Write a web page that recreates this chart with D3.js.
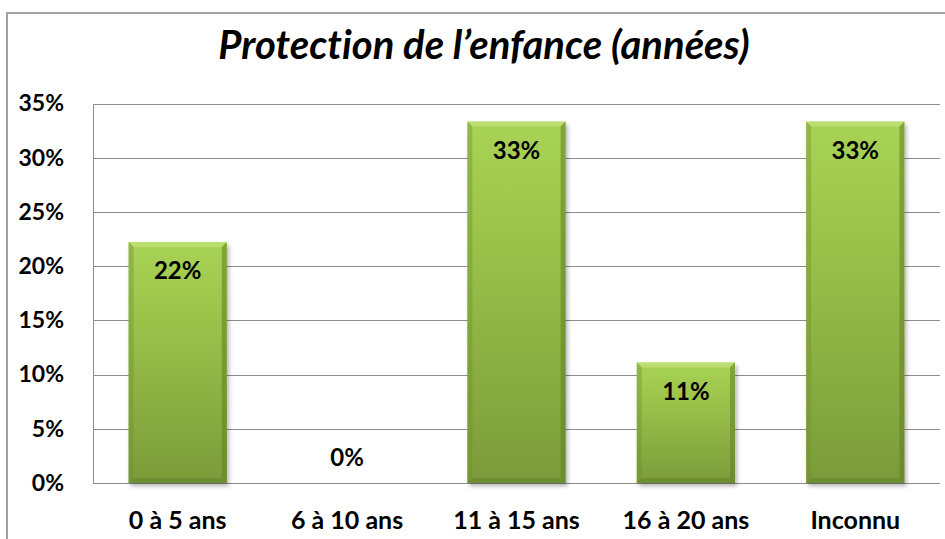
<!DOCTYPE html>
<html>
<head>
<meta charset="utf-8">
<script src="https://cdn.jsdelivr.net/npm/d3@7"></script>
<style>
  body { margin: 0; background: #fff; }
  text { font-family: Lato, "Open Sans", sans-serif; font-variant-ligatures: none; }
</style>
</head>
<body>
<script>
// Chart data
const categories = ["0 à 5 ans", "6 à 10 ans", "11 à 15 ans", "16 à 20 ans", "Inconnu"];
const values = [22.22, 0, 33.33, 11.11, 33.33];
const valueLabels = ["22%", "0%", "33%", "11%", "33%"];
const yTicks = [0, 5, 10, 15, 20, 25, 30, 35];
const title = "Protection de l’enfance (années)";

const width = 945, height = 539;
const margin = { left: 93, right: 5, top: 103.5, bottom: 56 };

const svg = d3.select("body").append("svg")
  .attr("width", width)
  .attr("height", height);

// Gradient for the bars
const defs = svg.append("defs");
const grad = defs.append("linearGradient")
  .attr("id", "barGrad")
  .attr("x1", 0).attr("y1", 0).attr("x2", 0).attr("y2", 1);
grad.append("stop").attr("offset", "0%").attr("stop-color", "#a9d355");
grad.append("stop").attr("offset", "30%").attr("stop-color", "#9cc44b");
grad.append("stop").attr("offset", "100%").attr("stop-color", "#7b9b3a");

const shadow = defs.append("filter").attr("id", "shadow")
  .attr("x", "-10%").attr("y", "-10%").attr("width", "130%").attr("height", "130%");
shadow.append("feDropShadow")
  .attr("dx", 2).attr("dy", 3).attr("stdDeviation", 2)
  .attr("flood-color", "#000").attr("flood-opacity", 0.3);

// Outer chart border
svg.append("path")
  .attr("d", `M7,${height} V13 H${width}`)
  .attr("fill", "none")
  .attr("stroke", "#a3a3a3")
  .attr("stroke-width", 2);

// Title
svg.append("text")
  .attr("x", 484)
  .attr("y", 59)
  .attr("text-anchor", "middle")
  .style("font-size", "40px")
  .style("font-style", "italic")
  .style("font-weight", "bold")
  .style("fill", "#000")
  .text(title);

// Scales
const x = d3.scaleBand()
  .domain(categories)
  .range([margin.left, width - margin.right])
  .paddingInner(0.42)
  .paddingOuter(0.21);

const y = d3.scaleLinear()
  .domain([0, 35])
  .range([height - margin.bottom, margin.top]);

// Gridlines
svg.append("g")
  .selectAll("line")
  .data(yTicks)
  .join("line")
  .attr("x1", margin.left)
  .attr("x2", width - margin.right)
  .attr("y1", d => Math.round(y(d)) + 0.5)
  .attr("y2", d => Math.round(y(d)) + 0.5)
  .attr("stroke", "#8c8c8c")
  .attr("stroke-width", 1);

// Plot area left edge
svg.append("line")
  .attr("x1", margin.left + 0.5).attr("x2", margin.left + 0.5)
  .attr("y1", Math.round(y(35)) + 0.5)
  .attr("y2", Math.round(y(0)) + 0.5)
  .attr("stroke", "#8c8c8c");

// Y axis labels
const yAxis = d3.axisLeft(y)
  .tickValues(yTicks)
  .tickFormat(d => d + "%")
  .tickSize(0)
  .tickPadding(29);

svg.append("g")
  .attr("transform", `translate(${margin.left},0)`)
  .call(yAxis)
  .call(g => g.select(".domain").remove())
  .call(g => g.selectAll("text")
    .style("font-size", "23px")
    .style("font-weight", "bold")
    .style("font-family", "Lato, sans-serif")
    .attr("fill", "#000"));

// X axis labels
const xAxis = d3.axisBottom(x).tickSize(0).tickPadding(28);
svg.append("g")
  .attr("transform", `translate(0,${y(0)})`)
  .call(xAxis)
  .call(g => g.select(".domain").remove())
  .call(g => g.selectAll("text")
    .style("font-size", "25px")
    .style("font-weight", "bold")
    .style("font-family", "Lato, sans-serif")
    .attr("fill", "#000"));

// Bars
const bars = svg.append("g")
  .selectAll("g")
  .data(values.map((v, i) => ({ cat: categories[i], v, label: valueLabels[i] })))
  .join("g");

const drawn = bars.filter(d => d.v > 0);

drawn.append("rect")
  .attr("x", d => x(d.cat))
  .attr("y", d => y(d.v))
  .attr("width", x.bandwidth())
  .attr("height", d => y(0) - y(d.v))
  .attr("fill", "url(#barGrad)")
  .attr("filter", "url(#shadow)");

// Bevel edges
const bev = 5;
drawn.append("path")
  .attr("d", d => {
    const x0 = x(d.cat), x1 = x0 + x.bandwidth(), y0 = y(d.v);
    return `M${x0},${y0} H${x1} L${x1 - bev},${y0 + bev} H${x0 + bev} Z`;
  })
  .attr("fill", "#c2e37a")
  .attr("opacity", 0.7);

drawn.append("path")
  .attr("d", d => {
    const x0 = x(d.cat), x1 = x0 + x.bandwidth(), y0 = y(d.v), y1 = y(0);
    return `M${x1},${y0} V${y1} L${x1 - bev},${y1 - bev} V${y0 + bev} Z`;
  })
  .attr("fill", "#5f7f26")
  .attr("opacity", 0.55);

drawn.append("path")
  .attr("d", d => {
    const x0 = x(d.cat), x1 = x0 + x.bandwidth(), y1 = y(0);
    return `M${x0},${y1} H${x1} L${x1 - bev},${y1 - bev} H${x0 + bev} Z`;
  })
  .attr("fill", "#5f7f26")
  .attr("opacity", 0.45);

drawn.append("path")
  .attr("d", d => {
    const x0 = x(d.cat), y0 = y(d.v), y1 = y(0);
    return `M${x0},${y0} V${y1} L${x0 + bev},${y1 - bev} V${y0 + bev} Z`;
  })
  .attr("fill", "#6e8f30")
  .attr("opacity", 0.4);

// Value labels
bars.append("text")
  .attr("x", d => x(d.cat) + x.bandwidth() / 2)
  .attr("y", d => d.v > 0 ? y(d.v) + 37 : y(0) - 17)
  .attr("text-anchor", "middle")
  .style("font-size", "24px")
  .style("font-weight", "bold")
  .style("fill", "#000")
  .text(d => d.label);
</script>
</body>
</html>
